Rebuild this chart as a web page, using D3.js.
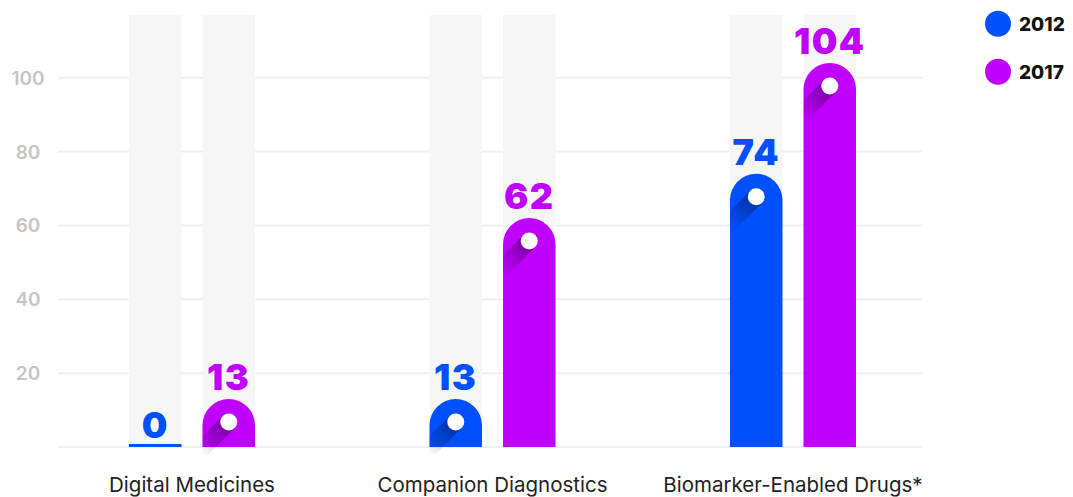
<!DOCTYPE html>
<html>
<head>
<meta charset="utf-8">
<script src="https://cdn.jsdelivr.net/npm/d3@7"></script>
<style>
  body { margin: 0; background: #fff; }
  svg { display: block; }
</style>
</head>
<body>
<svg id="chart"></svg>
<script>
const categories = ['Digital Medicines', 'Companion Diagnostics', 'Biomarker-Enabled Drugs*'];
const years = ['2012', '2017'];
const values2012 = [0, 13, 74];
const values2017 = [13, 62, 104];
const yTicks = [20, 40, 60, 80, 100];

const colours = { '2012': '#0050ff', '2017': '#c000ff' };
const width = 1073, height = 497;

const svg = d3.select('#chart').attr('width', width).attr('height', height);
const defs = svg.append('defs');

const y = d3.scaleLinear().domain([0, 117]).range([447, 15]);
const x = d3.scalePoint().domain(categories).range([192, 793]);
const xSub = d3.scaleBand().domain(years).range([-63, 63]).paddingInner(0.286);
const bw = xSub.bandwidth();

const rows = categories.flatMap((c, i) => [
    { cat: c, year: '2012', value: values2012[i] },
    { cat: c, year: '2017', value: values2017[i] }
]);

// gridlines + baseline
const grid = svg.append('g');
grid.selectAll('line').data([0, ...yTicks]).enter().append('line')
    .attr('x1', 58).attr('x2', 922)
    .attr('y1', d => y(d)).attr('y2', d => y(d))
    .attr('stroke', '#efefef').attr('stroke-width', 2);

// background columns
svg.append('g').selectAll('rect').data(rows).enter().append('rect')
    .attr('x', d => x(d.cat) + xSub(d.year))
    .attr('y', y(117))
    .attr('width', bw)
    .attr('height', y(0) - y(117))
    .attr('fill', '#f6f6f6');

// y tick labels
svg.append('g').selectAll('text').data(yTicks).enter().append('text')
    .attr('x', 28).attr('y', d => y(d) + 7)
    .attr('text-anchor', 'middle')
    .attr('font-family', 'Inter, sans-serif')
    .attr('font-weight', 600)
    .attr('font-size', 19)
    .attr('fill', '#c4c4c4')
    .text(d => d);

// shadow gradient
const grad = defs.append('linearGradient').attr('id', 'shade')
    .attr('x1', 0).attr('y1', 0).attr('x2', 0).attr('y2', 1);
grad.append('stop').attr('offset', 0).attr('stop-color', '#000').attr('stop-opacity', 0.38);
grad.append('stop').attr('offset', 1).attr('stop-color', '#000').attr('stop-opacity', 0);

function barPath(d, extra) {
    const x0 = x(d.cat) + xSub(d.year), r = bw / 2;
    const top = y(d.value), bottom = y(0) + extra;
    return `M${x0},${bottom} L${x0},${top + r} A${r},${r} 0 0 1 ${x0 + bw},${top + r} L${x0 + bw},${bottom} Z`;
}

const bars = svg.append('g').selectAll('g').data(rows).enter().append('g');

bars.each(function (d, i) {
    const g = d3.select(this);
    const x0 = x(d.cat) + xSub(d.year);
    const cx = x0 + bw / 2;
    if (d.value === 0) {
        g.append('rect').attr('x', x0).attr('y', y(0) - 3).attr('width', bw).attr('height', 3)
            .attr('fill', colours[d.year]);
        return;
    }
    g.append('path').attr('d', barPath(d, 0)).attr('fill', colours[d.year]);

    // diagonal shadow under the white dot
    const clipId = 'clip' + i;
    defs.append('clipPath').attr('id', clipId).append('path').attr('d', barPath(d, 8));
    const cy = y(d.value) + 23;
    g.append('g').attr('clip-path', `url(#${clipId})`)
        .append('rect')
        .attr('transform', `translate(${cx},${cy}) rotate(45)`)
        .attr('x', -8.5).attr('y', 0).attr('width', 17).attr('height', 42)
        .attr('fill', 'url(#shade)');
    g.append('circle').attr('cx', cx).attr('cy', cy).attr('r', 8.5).attr('fill', '#fff');
});

// value labels
svg.append('g').selectAll('text').data(rows).enter().append('text')
    .attr('x', d => x(d.cat) + xSub(d.year) + bw / 2)
    .attr('y', d => d.value === 0 ? y(0) - 9 : y(d.value) - 9)
    .attr('text-anchor', 'middle')
    .attr('font-family', 'Inter, sans-serif')
    .attr('font-weight', 900)
    .attr('font-size', 36)
    .attr('letter-spacing', 1.5)
    .attr('fill', d => colours[d.year])
    .text(d => d.value);

// category labels
svg.append('g').selectAll('text').data(categories).enter().append('text')
    .attr('x', d => x(d)).attr('y', 492)
    .attr('text-anchor', 'middle')
    .attr('font-family', 'Inter, sans-serif')
    .attr('font-size', 20.5)
    .attr('fill', '#222')
    .text(d => d);

// legend
const legend = svg.append('g').selectAll('g').data(years).enter().append('g')
    .attr('transform', (d, i) => `translate(998, ${23.7 + i * 48})`);
legend.append('circle').attr('r', 13).attr('fill', d => colours[d]);
legend.append('text').attr('x', 21).attr('y', 7)
    .attr('font-family', 'Inter, sans-serif')
    .attr('font-weight', 800)
    .attr('font-size', 19)
    .attr('fill', '#111')
    .text(d => d);
</script>
</body>
</html>
